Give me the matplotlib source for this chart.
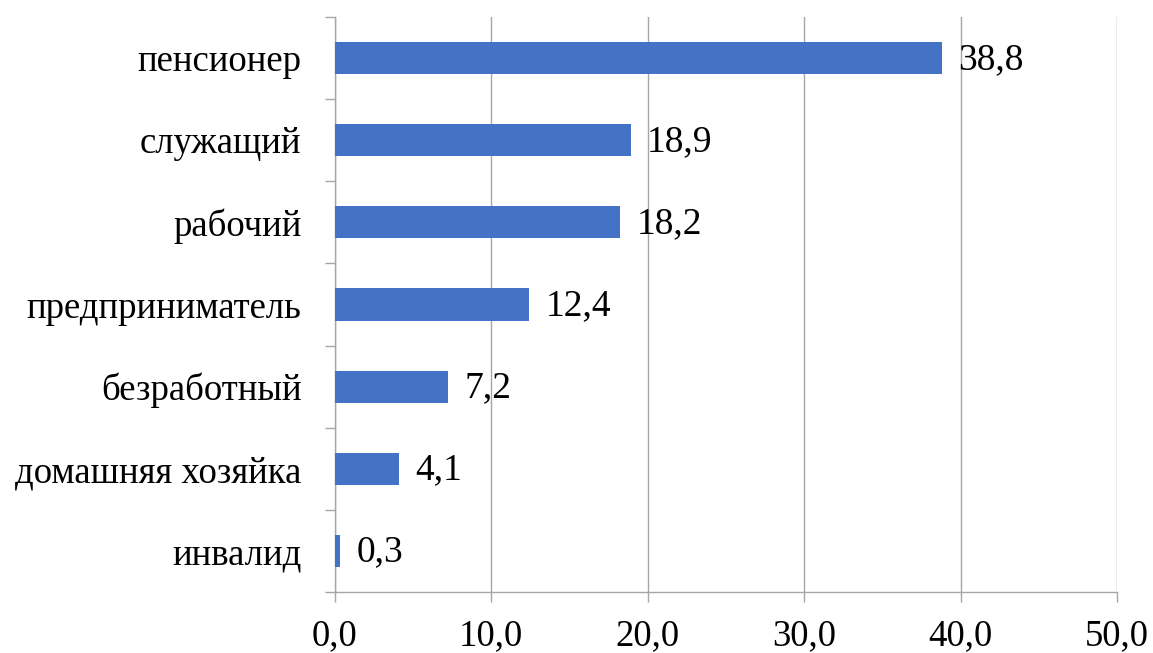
import matplotlib
matplotlib.use("Agg")
import matplotlib.pyplot as plt
import numpy as np

# Данные: социальный статус, %
categories = ["пенсионер", "служащий", "рабочий", "предприниматель",
              "безработный", "домашняя хозяйка", "инвалид"]
values = [38.8, 18.9, 18.2, 12.4, 7.2, 4.1, 0.3]
xticks = [0, 10, 20, 30, 40, 50]

BAR_COLOR = "#4472C4"
GRID_COLOR = "#A6A6A6"

plt.rcParams["font.family"] = ["Liberation Serif", "DejaVu Serif"]

fig = plt.figure(figsize=(11.53, 6.53), dpi=100)
ax = fig.add_axes([0.2905, 0.0934, 0.6783, 0.8806])

y = np.arange(len(categories))[::-1]
ax.barh(y, values, height=0.39, color=BAR_COLOR, zorder=3)

for yi, v in zip(y, values):
    ax.annotate(f"{v:.1f}".replace(".", ","), (v, yi), xytext=(12, -1),
                textcoords="offset points", va="center", ha="left",
                fontsize=27, color="black", zorder=4)

ax.set_xlim(0, 50)
ax.set_ylim(-0.5, len(categories) - 0.5)
ax.set_xticks(xticks)
ax.set_xticklabels([f"{t:.1f}".replace(".", ",") for t in xticks], fontsize=26.5)
ax.set_yticks(y)
ax.set_yticklabels(categories, fontsize=26.5)
ax.set_yticks(np.arange(len(categories) + 1) - 0.5, minor=True)

ax.tick_params(axis="y", which="major", length=0, pad=24)
ax.tick_params(axis="y", which="minor", length=7, width=1, color=GRID_COLOR)
ax.tick_params(axis="x", length=7, width=1, color=GRID_COLOR, pad=12)

ax.grid(axis="x", color=GRID_COLOR, linewidth=1, zorder=0)
for side in ["top", "right"]:
    ax.spines[side].set_visible(False)
for side in ["left", "bottom"]:
    ax.spines[side].set_color(GRID_COLOR)
    ax.spines[side].set_linewidth(1)

fig.savefig("out.png", dpi=100)
